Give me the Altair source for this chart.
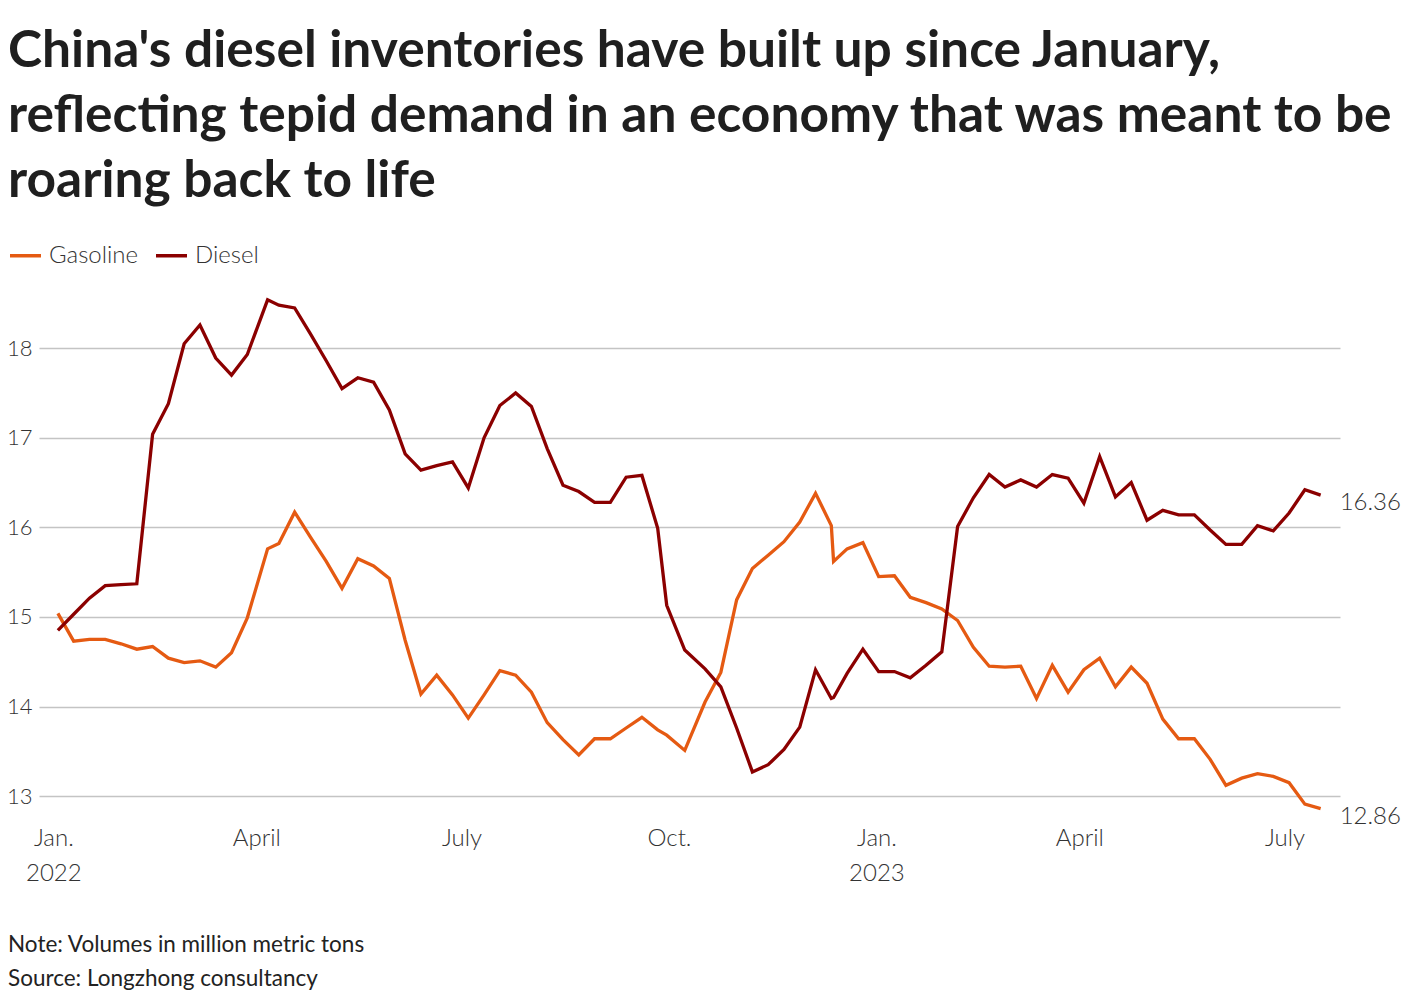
import altair as alt
import pandas as pd

# ---- data (million metric tons, weekly) ----
dates = [
    "2022-01-03", "2022-01-10", "2022-01-17", "2022-01-24", "2022-01-31", "2022-02-07",
    "2022-02-14", "2022-02-21", "2022-02-28", "2022-03-07", "2022-03-14", "2022-03-21",
    "2022-03-28", "2022-04-06", "2022-04-11", "2022-04-18", "2022-04-25", "2022-05-02",
    "2022-05-09", "2022-05-16", "2022-05-23", "2022-05-30", "2022-06-06", "2022-06-13",
    "2022-06-20", "2022-06-27", "2022-07-04", "2022-07-11", "2022-07-18", "2022-07-25",
    "2022-08-01", "2022-08-08", "2022-08-15", "2022-08-22", "2022-08-29", "2022-09-05",
    "2022-09-12", "2022-09-19", "2022-09-26", "2022-09-30", "2022-10-08", "2022-10-17",
    "2022-10-24", "2022-10-31", "2022-11-07", "2022-11-14", "2022-11-21", "2022-11-28",
    "2022-12-05", "2022-12-12", "2022-12-13", "2022-12-19", "2022-12-26",
    "2023-01-02", "2023-01-09", "2023-01-16", "2023-01-23", "2023-01-30", "2023-02-06",
    "2023-02-13", "2023-02-20", "2023-02-27", "2023-03-06", "2023-03-13", "2023-03-20",
    "2023-03-27", "2023-04-03", "2023-04-10", "2023-04-17", "2023-04-24", "2023-05-01",
    "2023-05-08", "2023-05-15", "2023-05-22", "2023-05-29", "2023-06-05", "2023-06-12",
    "2023-06-19", "2023-06-26", "2023-07-03", "2023-07-10", "2023-07-17",
]

gasoline = [
    15.04, 14.73, 14.75, 14.75, 14.70, 14.64,
    14.67, 14.54, 14.49, 14.51, 14.44, 14.60,
    14.99, 15.76, 15.82, 16.17, 15.89, 15.62,
    15.32, 15.65, 15.57, 15.43, 14.74, 14.14,
    14.35, 14.13, 13.87, 14.13, 14.40, 14.35,
    14.16, 13.82, 13.63, 13.46, 13.64, 13.64,
    13.76, 13.88, 13.74, 13.68, 13.51, 14.05,
    14.38, 15.19, 15.54, 15.69, 15.84, 16.06,
    16.38, 16.02, 15.62, 15.76, 15.83,
    15.45, 15.46, 15.22, 15.16, 15.09, 14.96,
    14.66, 14.45, 14.44, 14.45, 14.09, 14.46,
    14.16, 14.41, 14.54, 14.22, 14.44, 14.26,
    13.86, 13.64, 13.64, 13.41, 13.12, 13.20,
    13.25, 13.22, 13.15, 12.91, 12.86,
]

diesel = [
    14.85, 15.03, 15.21, 15.35, 15.36, 15.37,
    17.04, 17.38, 18.05, 18.26, 17.89, 17.70,
    17.93, 18.54, 18.48, 18.45, 18.16, 17.86,
    17.55, 17.67, 17.62, 17.31, 16.82, 16.64,
    16.69, 16.73, 16.44, 17.00, 17.36, 17.50,
    17.35, 16.88, 16.47, 16.40, 16.28, 16.28,
    16.56, 16.58, 15.99, 15.13, 14.63, 14.42,
    14.22, 13.76, 13.27, 13.35, 13.52, 13.77,
    14.41, 14.09, 14.10, 14.37, 14.64,
    14.39, 14.39, 14.32, 14.46, 14.61, 16.01,
    16.33, 16.59, 16.45, 16.53, 16.45, 16.59,
    16.55, 16.27, 16.79, 16.34, 16.50, 16.08,
    16.19, 16.14, 16.14, 15.97, 15.81, 15.81,
    16.02, 15.96, 16.16, 16.42, 16.36,
]

series_names = ["Gasoline", "Diesel"]
series_colors = ["#e55a12", "#8b0000"]
y_ticks = [13, 14, 15, 16, 17, 18]

title_lines = [
    "China's diesel inventories have built up since January,",
    "reflecting tepid demand in an economy that was meant to be",
    "roaring back to life",
]
note_text = "Note: Volumes in million metric tons\nSource: Longzhong consultancy"

df = pd.DataFrame({"date": pd.to_datetime(dates), "Gasoline": gasoline, "Diesel": diesel})
last = df.tail(1)

W, H = 1301, 524
FONT = "Lato"

x_enc = alt.X(
    "date:T",
    scale=alt.Scale(domain=[alt.DateTime(year=2021, month=12, date=25, hours=15),
                            alt.DateTime(year=2023, month=7, date=25, hours=14)]),
    axis=alt.Axis(
        title=None,
        values=[alt.DateTime(year=2022, month=1, date=1), alt.DateTime(year=2022, month=4, date=1),
                alt.DateTime(year=2022, month=7, date=1), alt.DateTime(year=2022, month=10, date=1),
                alt.DateTime(year=2023, month=1, date=1), alt.DateTime(year=2023, month=4, date=1),
                alt.DateTime(year=2023, month=7, date=1)],
        labelExpr="month(datum.value) == 0 ? ['Jan.', timeFormat(datum.value, '%Y')] : "
                  "month(datum.value) == 3 ? 'April' : month(datum.value) == 6 ? 'July' : 'Oct.'",
        grid=False, domain=False, ticks=False,
        labelFont=FONT, labelFontSize=24, labelFontWeight=300, labelColor="#333333",
        labelPadding=12, labelLineHeight=35, labelFlush=False, labelOverlap=False, labelBound=False,
    ),
)

y_scale = alt.Scale(domain=[12.8, 18.65], nice=False, zero=False)
y_axis = alt.Axis(
    title=None, values=y_ticks, format="d",
    grid=True, gridColor="#c4c4c4", gridWidth=1.5,
    domain=False, ticks=False,
    labelFont=FONT, labelFontSize=22, labelFontWeight=300, labelColor="#333333",
    labelPadding=7, labelFlush=False,
)

color_scale = alt.Scale(domain=series_names, range=series_colors)
legend = alt.Legend(
    title=None, orient="none", legendX=-31, legendY=-52, direction="horizontal",
    labelFont=FONT, labelFontSize=24, labelFontWeight=300, labelColor="#333333",
    symbolType="stroke", symbolSize=960, symbolStrokeWidth=3.5,
    labelOffset=6, columnPadding=10,
)

gas_line = alt.Chart(df).transform_calculate(series="'Gasoline'").mark_line(strokeWidth=3.3).encode(
    x=x_enc,
    y=alt.Y("Gasoline:Q", scale=y_scale, axis=y_axis),
    color=alt.Color("series:N", scale=color_scale, legend=legend),
)
dsl_line = alt.Chart(df).transform_calculate(series="'Diesel'").mark_line(strokeWidth=3.3).encode(
    x=x_enc,
    y=alt.Y("Diesel:Q", scale=y_scale, axis=y_axis),
    color=alt.Color("series:N", scale=color_scale, legend=legend),
)

label_kw = dict(align="left", baseline="middle", dx=19, dy=8, font=FONT, fontSize=24,
                fontWeight=300, color="#333333")
gas_lab = alt.Chart(last).mark_text(**label_kw).encode(
    x="date:T", y="Gasoline:Q", text=alt.Text("Gasoline:Q", format=".2f"))
dsl_lab = alt.Chart(last).mark_text(**label_kw).encode(
    x="date:T", y="Diesel:Q", text=alt.Text("Diesel:Q", format=".2f"))

notes = alt.Chart(pd.DataFrame({"t": [note_text]})).mark_text(
    align="left", baseline="alphabetic", font=FONT, fontSize=22.5, color="#222222",
    lineBreak="\n", lineHeight=34,
).encode(x=alt.value(-31), y=alt.value(662), text="t:N")

chart = alt.layer(gas_line, dsl_line, gas_lab, dsl_lab, notes).properties(
    width=W, height=H,
    background="white",
    title=alt.TitleParams(
        text=title_lines, anchor="start", frame="group", font=FONT, fontSize=51.5,
        fontWeight="bold", color="#1f1f1f", lineHeight=65, dx=-31, offset=31,
    ),
    autosize=alt.AutoSizeParams(type="none"),
    padding={"left": 31, "top": 282, "right": 72, "bottom": 178},
).configure_view(strokeWidth=0, stroke="transparent")

chart.save("out.html", embed_options={"renderer": "svg", "actions": False})
